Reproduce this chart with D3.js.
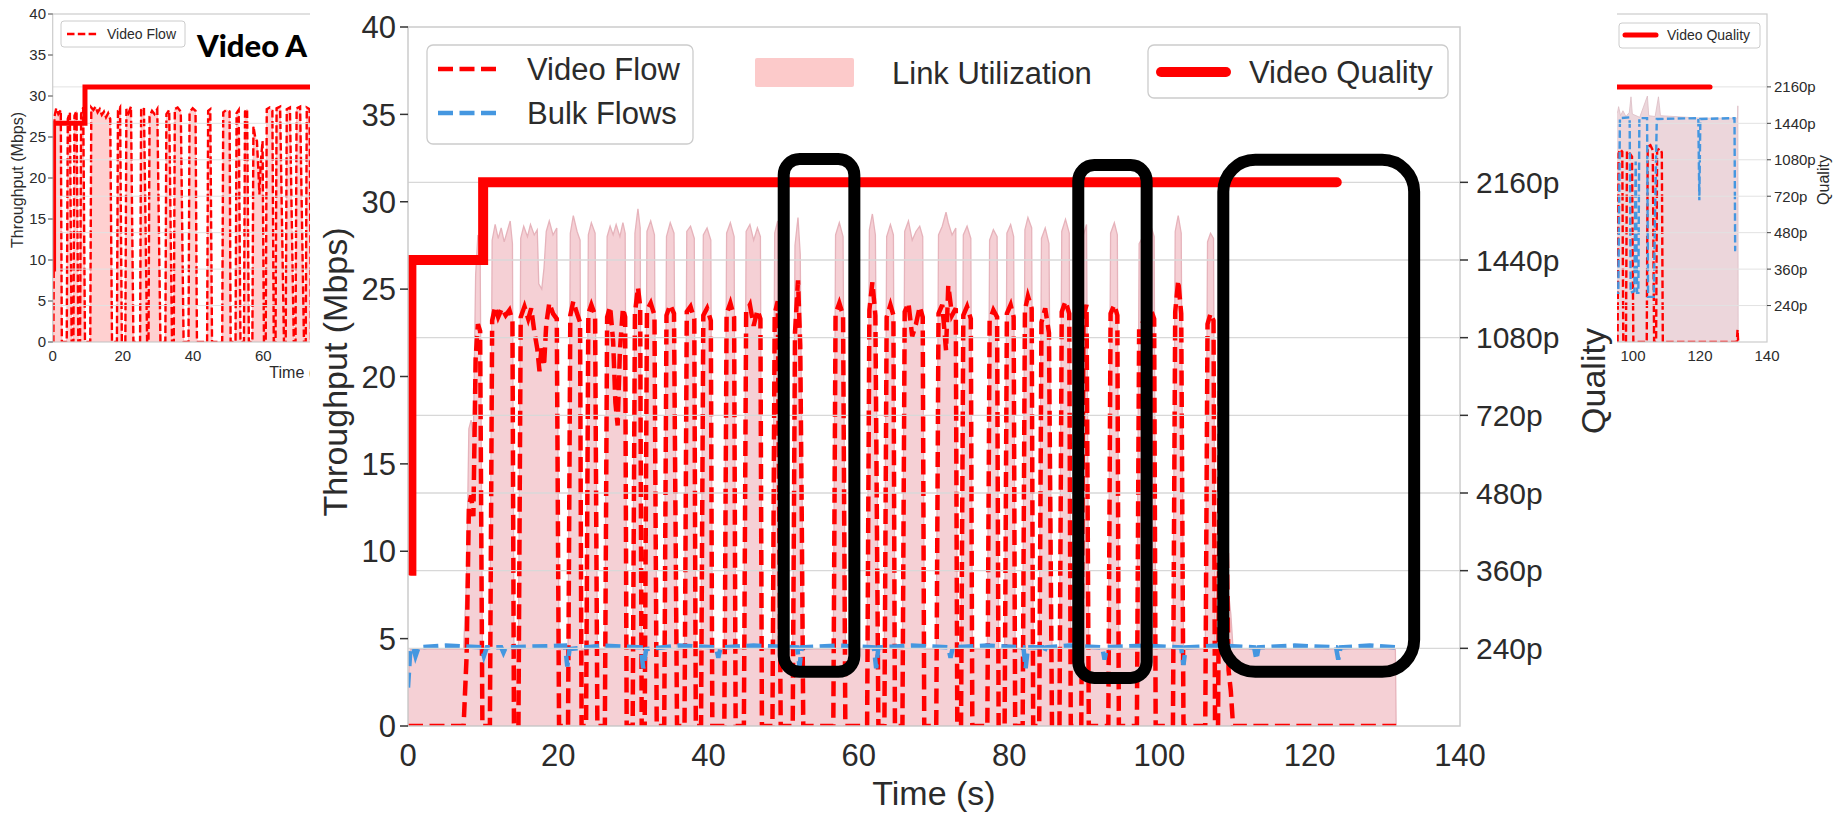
<!DOCTYPE html>
<html><head><meta charset="utf-8">
<script src="https://cdn.jsdelivr.net/npm/d3@7/dist/d3.min.js"></script>
<style>html,body{margin:0;padding:0;background:#fff;}svg{display:block;}</style>
</head><body>
<svg id="chart" width="1835" height="813"></svg>
<script>
// ================= DATA =================
const timeTicks = [0, 20, 40, 60, 80, 100, 120, 140];
const throughputTicks = [0, 5, 10, 15, 20, 25, 30, 35, 40];
const qualityLevels = ["240p", "360p", "480p", "720p", "1080p", "1440p", "2160p"]; // quality index 1..7
const mainLegendLines = ["Video Flow", "Bulk Flows"];
const utilLegend = "Link Utilization";
const qualityLegend = "Video Quality";
const sideTitle = "Video A";

// main chart: [time s, Mbps]
const mainVideoFlow = [
 [0,0],[7.4,0],[7.8,4],[8.1,12.5],[8.4,13.2],[8.7,12],[9.0,21],[9.3,23],[9.6,22.6],[9.9,0],
 [10.9,0],[11.2,23.2],[11.6,24.0],[12.0,23.4],[12.5,23.9],[13.0,23.5],[13.5,23.8],[13.9,23.2],[14.1,0],
 [14.7,0],[15.0,23.4],[15.5,24.0],[16.0,23.3],[16.4,23.9],[16.8,22.6],[17.2,21.6],[17.5,20.3],[17.8,21.8],[18.1,20.6],[18.4,23.0],[18.8,24.2],[19.3,23.6],[19.8,23.3],[20.1,0],
 [21.3,0],[21.6,23.5],[22.0,24.3],[22.5,23.6],[22.9,23.1],[23.1,0],
 [23.7,0],[24.0,23.6],[24.4,24.1],[24.9,23.5],[25.2,0],
 [26.2,0],[26.5,23.4],[26.9,24.0],[27.3,22.0],[27.6,18.5],[27.9,17.2],[28.2,21.5],[28.6,23.9],[28.9,23.4],[29.1,0],
 [29.9,0],[30.2,23.6],[30.6,25.1],[30.9,24.0],[31.1,0],[31.5,0],[31.8,23.8],[32.3,24.2],[32.8,23.5],[33.1,0],
 [34.1,0],[34.4,23.5],[34.9,24.1],[35.4,23.6],[35.8,0],
 [36.8,0],[37.1,23.7],[37.6,24.0],[38.1,23.3],[38.3,0],
 [39.0,0],[39.3,23.5],[39.8,23.9],[40.3,23.2],[40.5,0],
 [42.1,0],[42.4,23.6],[42.9,24.2],[43.4,23.4],[43.6,0],
 [44.7,0],[45.0,23.7],[45.5,24.1],[46.0,22.9],[46.5,23.8],[46.9,23.3],[47.1,0],
 [48.5,0],[48.8,23.6],[49.2,24.3],[49.6,0],
 [51.2,0],[51.5,22.5],[51.9,25.5],[52.2,21.8],[52.4,12.0],[52.6,0],
 [56.6,0],[56.9,23.6],[57.4,24.2],[57.9,23.5],[58.2,0],
 [61.1,0],[61.4,23.8],[61.8,25.4],[62.2,23.5],[62.6,0],
 [63.4,0],[63.7,23.4],[64.2,24.1],[64.6,23.5],[64.8,0],
 [65.8,0],[66.1,23.7],[66.6,24.2],[67.1,22.3],[67.6,23.0],[68.1,24.0],[68.5,23.4],[68.7,0],
 [70.3,0],[70.6,23.6],[71.1,24.1],[71.6,21.5],[71.9,25.2],[72.4,23.5],[72.9,23.9],[73.1,0],
 [73.6,0],[73.9,23.5],[74.4,24.0],[74.9,23.3],[75.1,0],
 [77.1,0],[77.4,23.2],[77.9,23.8],[78.4,23.4],[78.6,0],
 [79.4,0],[79.7,23.6],[80.2,24.1],[80.6,23.4],[80.8,0],
 [81.8,0],[82.1,23.8],[82.5,24.6],[83.0,23.9],[83.2,0],
 [84.0,0],[84.3,23.1],[84.8,23.9],[85.3,22.5],[85.7,0],
 [86.7,0],[87.0,23.7],[87.5,24.3],[88.0,23.6],[88.2,0],
 [89.6,0],[89.9,23.5],[90.3,24.1],[90.6,0],
 [93.2,0],[93.5,23.6],[94.0,24.1],[94.4,23.5],[94.6,0],
 [97.0,0],[97.3,22.8],[97.8,23.1],[98.3,23.6],[98.8,23.9],[99.3,23.3],[99.5,0],
 [101.8,0],[102.1,23.7],[102.5,25.5],[102.9,23.6],[103.2,0],
 [106.1,0],[106.4,23.0],[106.8,23.6],[107.2,23.2],[107.4,0],[107.8,0],[108.1,22.7],[108.5,22.4],[108.9,12.0],[109.2,3.2],[109.5,2.0],[109.8,0],
 [131.5,0]
];
const mainBulkFlows = [
 [0,2.2],[0.3,4.3],[0.7,4.5],[1.0,4.0],[1.4,4.5],[5,4.6],[9.8,4.5],[10.1,4.0],[10.5,4.5],[12.4,4.5],[12.7,4.2],[13.0,4.5],
 [20.9,4.6],[21.2,3.4],[21.5,4.4],[26,4.6],[31.0,4.5],[31.3,3.3],[31.7,4.4],[36,4.6],[41.0,4.5],[41.3,3.9],[41.6,4.5],
 [46,4.6],[51.8,4.5],[52.1,3.4],[52.4,4.5],[57,4.6],[62.0,4.5],[62.3,3.3],[62.6,4.5],[67,4.6],[71.9,4.5],[72.2,3.9],[72.5,4.5],
 [77,4.6],[81.9,4.5],[82.2,3.3],[82.5,4.5],[84.4,4.5],[84.6,4.2],[84.9,4.5],[88,4.6],[92.4,4.5],[92.7,3.8],[93.0,4.5],
 [98,4.6],[102.9,4.5],[103.2,3.5],[103.5,4.5],[108,4.6],[112.6,4.5],[112.9,3.8],[113.2,4.5],[118,4.6],
 [123.5,4.5],[123.8,3.8],[124.1,4.5],[128,4.6],[131.4,4.5]
];
const mainLinkUtil = [
 [0,2.2],[0.3,4.4],[7.4,4.4],[7.8,8.5],[8.1,17],[8.4,17.5],[8.7,16.5],[9.0,25.8],[9.3,28.1],[9.6,27.4],[9.9,4.4],
 [10.9,4.4],[11.2,27.8],[11.6,28.7],[12.0,27.9],[12.4,28.5],[12.8,27.7],[13.2,28.3],[13.6,28.9],[13.9,27.6],[14.1,4.4],
 [14.7,4.4],[15.0,27.9],[15.4,28.6],[15.9,28.0],[16.3,28.7],[16.8,28.1],[17.2,28.4],[17.4,25.3],[17.8,25.0],[18.1,26.2],[18.4,28.3],[18.8,28.9],[19.3,28.1],[19.8,28.5],[20.1,4.4],
 [21.3,4.4],[21.6,28.2],[22.0,29.2],[22.5,28.3],[22.9,27.8],[23.1,4.4],
 [23.7,4.4],[24.0,28.1],[24.4,28.8],[24.9,28.2],[25.2,4.4],
 [26.2,4.4],[26.5,28.0],[26.9,28.6],[27.3,28.1],[27.7,28.7],[28.2,28.0],[28.6,28.8],[28.9,28.2],[29.1,4.4],
 [29.9,4.4],[30.2,28.2],[30.6,29.6],[30.9,28.5],[31.1,4.4],[31.5,4.4],[31.8,28.3],[32.3,28.9],[32.8,28.1],[33.1,4.4],
 [34.1,4.4],[34.4,28.0],[34.9,28.8],[35.4,28.2],[35.8,4.4],
 [36.8,4.4],[37.1,28.3],[37.6,28.6],[38.1,27.9],[38.3,4.4],
 [39.0,4.4],[39.3,28.1],[39.8,28.5],[40.3,27.8],[40.5,4.4],
 [42.1,4.4],[42.4,28.2],[42.9,28.8],[43.4,28.0],[43.6,4.4],
 [44.7,4.4],[45.0,28.3],[45.5,28.7],[46.0,27.8],[46.5,28.5],[46.9,28.0],[47.1,4.4],
 [48.5,4.4],[48.8,28.2],[49.2,28.9],[49.6,4.4],
 [51.2,4.4],[51.5,27.5],[51.9,29.1],[52.2,27.0],[52.4,16.5],[52.6,4.4],
 [56.6,4.4],[56.9,28.1],[57.4,28.8],[57.9,28.0],[58.2,4.4],
 [61.1,4.4],[61.4,28.4],[61.8,29.3],[62.2,28.1],[62.6,4.4],
 [63.4,4.4],[63.7,28.0],[64.2,28.7],[64.6,28.1],[64.8,4.4],
 [65.8,4.4],[66.1,28.3],[66.6,28.9],[67.1,27.8],[67.6,28.3],[68.1,28.6],[68.5,28.0],[68.7,4.4],
 [70.3,4.4],[70.6,28.1],[71.1,28.6],[71.6,29.4],[71.9,28.8],[72.4,28.1],[72.9,28.5],[73.1,4.4],
 [73.6,4.4],[73.9,28.1],[74.4,28.6],[74.9,27.9],[75.1,4.4],
 [77.1,4.4],[77.4,27.8],[77.9,28.4],[78.4,28.0],[78.6,4.4],
 [79.4,4.4],[79.7,28.2],[80.2,28.7],[80.6,28.0],[80.8,4.4],
 [81.8,4.4],[82.1,28.4],[82.5,29.1],[83.0,28.5],[83.2,4.4],
 [84.0,4.4],[84.3,27.9],[84.8,28.5],[85.3,27.6],[85.7,4.4],
 [86.7,4.4],[87.0,28.3],[87.5,29.0],[88.0,28.2],[88.2,4.4],
 [89.6,4.4],[89.9,28.1],[90.3,28.7],[90.6,4.4],
 [93.2,4.4],[93.5,28.2],[94.0,28.8],[94.4,28.1],[94.6,4.4],
 [97.0,4.4],[97.3,27.6],[97.8,28.0],[98.3,28.4],[98.8,28.7],[99.3,28.0],[99.5,4.4],
 [101.8,4.4],[102.1,28.3],[102.5,29.2],[102.9,28.2],[103.2,4.4],
 [106.1,4.4],[106.4,27.7],[106.8,28.2],[107.2,27.9],[107.4,4.4],[107.8,4.4],[108.1,27.4],[108.5,27.1],[108.9,16.5],[109.2,7.6],[109.5,6.4],[109.8,4.4],
 [131.4,4.4],[131.5,0]
];
// quality: [time s, quality index] (1 = 240p ... 7 = 2160p)
const mainQuality = [[0.4,2],[0.45,6],[10.0,7],[123.6,7]];
// highlight boxes: [t start, t end, Mbps bottom, Mbps top]
const highlightBoxes = [[50.0,59.4,3.1,32.45],[89.2,98.3,2.75,32.1],[108.5,133.9,3.1,32.4]];

// left side chart ("Video A")
const sideAVideoFlow = [
 [0,0],[0.2,0],[0.5,27.5],[1.0,28.5],[1.6,27.8],[2.3,28.3],[2.6,0],
 [4.0,0],[4.3,27.2],[4.9,28.0],[5.4,0],
 [5.9,0],[6.2,27.6],[6.8,28.2],[7.3,0],
 [7.8,0],[8.1,27.8],[8.7,28.6],[9.2,0],
 [10.7,0],[11.0,28.6],[11.6,28.3],[12.2,28.7],[12.8,28.0],[13.4,28.4],[14.0,27.7],[14.6,28.1],[15.2,27.4],[15.8,27.9],[16.4,27.2],[16.9,0],
 [18.3,0],[18.6,28.2],[19.2,28.6],[19.7,0],
 [20.7,0],[21.0,28.4],[21.6,27.9],[22.3,28.7],[23.0,0],
 [24.9,0],[25.2,28.3],[26.0,28.6],[26.9,0],
 [27.3,0],[27.6,27.5],[28.3,28.2],[29.0,27.8],[29.8,28.4],[30.7,0],
 [32.1,0],[32.4,27.8],[33.2,28.3],[34.0,0],
 [34.5,0],[34.8,28.4],[35.6,28.6],[36.5,28.1],[37.3,0],
 [38.7,0],[39.0,28.0],[39.9,28.5],[40.7,28.2],[41.1,0],
 [44.0,0],[44.3,28.2],[44.9,28.4],[45.4,0],
 [48.3,0],[48.6,28.0],[49.5,28.3],[50.4,28.1],[50.7,0],
 [52.1,0],[52.4,27.9],[53.0,28.3],[53.5,0],
 [54.5,0],[54.8,28.1],[55.4,28.4],[55.9,0],
 [56.9,0],[57.2,26.3],[57.7,25.0],[58.2,24.5],[58.6,21.0],[58.9,18.0],[59.3,22.0],[59.8,24.5],[60.2,0],
 [60.7,0],[61.0,28.4],[61.8,28.6],[62.6,28.2],[63.0,0],
 [63.5,0],[63.8,28.5],[64.8,28.7],[65.9,0],
 [66.4,0],[66.7,28.4],[67.6,28.6],[68.7,0],
 [69.2,0],[69.5,28.5],[70.5,28.7],[71.6,0],
 [72.1,0],[72.4,28.6],[73.2,28.4],[73.6,0],[80,0]
];
const sideAQuality = [[0.17,2],[0.25,6],[9.2,7],[123.0,7]];

// right side chart
const sideBVideoFlow = [
 [0,0],[93.0,0],[93.3,23.2],[94.5,23.6],[94.9,0],
 [95.4,0],[95.7,23.0],[96.2,23.5],[96.8,23.2],[97.1,0],
 [97.9,0],[98.2,23.3],[99.0,23.0],[99.7,22.6],[100.1,0],
 [104.1,0],[104.4,23.8],[105.2,24.0],[105.9,23.4],[106.3,0],
 [106.9,0],[107.2,23.4],[108.0,23.6],[108.6,23.1],[108.9,0],
 [131.0,0],[131.2,1.5],[131.4,0]
];
const sideBBulkFlows = [
 [0,6],[95.6,6.0],[96.1,27.3],[99.0,27.4],[99.3,6.0],[100.4,6.2],[100.8,22.0],[101.2,6.0],[101.6,6.0],[101.9,27.3],
 [104.2,27.3],[104.5,5.5],[106.2,5.5],[106.6,16.0],[107.1,27.2],[119.5,27.3],[119.8,17.3],[120.1,27.2],[130.3,27.3],[130.5,11.2],[130.8,11.2]
];
const sideBLinkUtil = [
 [0,28],[95.4,28.0],[95.7,28.7],[96.3,27.6],[97.0,28.2],[97.9,27.5],[98.9,28.0],[99.4,29.9],[99.8,27.8],[102.0,27.4],
 [104.3,30.0],[104.7,27.6],[106.6,27.5],[107.6,29.9],[108.2,27.6],[120.0,27.3],[131.2,27.3],[131.3,28.8],[131.4,0]
];
const sideBQuality = [[0.2,2],[0.3,6],[10.0,7],[123.0,7]];

// ================= DRAWING =================
const svg = d3.select("#chart");
const FONT = "'Liberation Sans', Arial, Helvetica, sans-serif";
const INK = "#2b2b2b";
const RED = "#ff0000", BLUE = "#4597e0", SPINE = "#cccccc", GRID = "#d8d8d8";
const qIdx = qualityLevels.map((d, i) => i + 1);
const MAIN_LEFT = 310, MAIN_RIGHT = 1617; // extent of the main figure laid over the side figures

function mkLine(x, y, curve) {
  return d3.line().x(d => x(d[0])).y(d => y(d[1])).curve(curve || d3.curveLinear);
}
function mkArea(x, y) {
  return d3.area().x(d => x(d[0])).y0(y(0)).y1(d => y(d[1]));
}
const visible = px => px < MAIN_LEFT - 4 || px > MAIN_RIGHT + 4;

// ---------- side panel helper ----------
function sidePanel(cfg) {
  const g = svg.append("g");
  const x = d3.scaleLinear().domain([0, 140]).range(cfg.xr);
  const y = d3.scaleLinear().domain([0, 40]).range(cfg.yr);
  const q = d3.scaleLinear().domain([0, 9]).range(cfg.yr);
  g.append("clipPath").attr("id", cfg.id).append("rect")
    .attr("x", cfg.xr[0]).attr("y", cfg.yr[1])
    .attr("width", cfg.xr[1] - cfg.xr[0]).attr("height", cfg.yr[0] - cfg.yr[1]);
  const p = g.append("g").attr("clip-path", `url(#${cfg.id})`);
  p.append("path").datum(cfg.util).attr("d", mkArea(x, y))
    .attr("fill", cfg.utilFill).attr("stroke", cfg.utilEdge).attr("stroke-width", 0.8);
  p.append("path").datum(cfg.video).attr("d", mkLine(x, y)).attr("fill", "none")
    .attr("stroke", RED).attr("stroke-width", 2.4).attr("stroke-dasharray", "7.5,3.3");
  if (cfg.bulk) p.append("path").datum(cfg.bulk).attr("d", mkLine(x, y)).attr("fill", "none")
    .attr("stroke", BLUE).attr("stroke-width", 2.4).attr("stroke-dasharray", "7.5,3.3");
  p.selectAll("line.grid").data(qIdx).enter().append("line").attr("class", "grid")
    .attr("x1", cfg.xr[0]).attr("x2", cfg.xr[1]).attr("y1", d => q(d)).attr("y2", d => q(d))
    .attr("stroke", "#e2e2e2").attr("stroke-width", 1);
  p.append("path").datum(cfg.quality).attr("d", mkLine(x, q, d3.curveStepAfter)).attr("fill", "none")
    .attr("stroke", RED).attr("stroke-width", 5).attr("stroke-linecap", "round");
  g.append("rect").attr("x", cfg.xr[0]).attr("y", cfg.yr[1])
    .attr("width", cfg.xr[1] - cfg.xr[0]).attr("height", cfg.yr[0] - cfg.yr[1])
    .attr("fill", "none").attr("stroke", SPINE).attr("stroke-width", 1.2);
  g.selectAll("text.xt").data(timeTicks.filter(t => visible(x(t)))).enter().append("text")
    .attr("x", d => x(d)).attr("y", 361).attr("text-anchor", "middle")
    .attr("font-family", FONT).attr("font-size", 15).attr("fill", INK).text(d => d);
  if (cfg.showXLabel) g.append("text").attr("x", (cfg.xr[0] + cfg.xr[1]) / 2).attr("y", 378).attr("text-anchor", "middle")
    .attr("font-family", FONT).attr("font-size", 16).attr("fill", INK).text("Time (s)");
  return { g, x, y, q };
}

// ---------- left side chart ----------
const A = sidePanel({ id: "clipA", xr: [52.7, 544], yr: [342, 14], util: sideAVideoFlow, utilFill: "#ffd0d0", utilEdge: "#f6b9bd",
  video: sideAVideoFlow, quality: sideAQuality, showXLabel: true });
A.g.selectAll("line.yt").data(throughputTicks).enter().append("line")
  .attr("x1", 48).attr("x2", 52.7).attr("y1", d => A.y(d)).attr("y2", d => A.y(d)).attr("stroke", "#444").attr("stroke-width", 1);
A.g.selectAll("text.yt").data(throughputTicks).enter().append("text")
  .attr("x", 46).attr("y", d => A.y(d)).attr("dy", "0.36em").attr("text-anchor", "end")
  .attr("font-family", FONT).attr("font-size", 15).attr("fill", INK).text(d => d);
A.g.append("text").attr("transform", "translate(17,180) rotate(-90)").attr("dy", "0.35em").attr("text-anchor", "middle")
  .attr("font-family", FONT).attr("font-size", 16).attr("fill", INK).text("Throughput (Mbps)");
A.g.append("rect").attr("x", 61).attr("y", 21).attr("width", 124).attr("height", 26).attr("rx", 3)
  .attr("fill", "#fff").attr("fill-opacity", 0.85).attr("stroke", SPINE).attr("stroke-width", 1);
A.g.append("line").attr("x1", 67).attr("x2", 97).attr("y1", 34).attr("y2", 34)
  .attr("stroke", RED).attr("stroke-width", 2.4).attr("stroke-dasharray", "7.5,3.3");
A.g.append("text").attr("x", 107).attr("y", 34).attr("dy", "0.36em").attr("font-family", FONT)
  .attr("font-size", 14).attr("fill", INK).text(mainLegendLines[0]);
A.g.append("text").attr("x", 197).attr("y", 57).attr("font-family", "Lato, 'Open Sans', sans-serif")
  .attr("font-weight", 900).attr("font-size", 31).attr("fill", "#000").text(sideTitle);

// ---------- right side chart ----------
const B = sidePanel({ id: "clipB", xr: [1298, 1767], yr: [342, 14], util: sideBLinkUtil, utilFill: "#ecd6db", utilEdge: "#dcbcc4",
  video: sideBVideoFlow, bulk: sideBBulkFlows, quality: sideBQuality, showXLabel: false });
B.g.selectAll("line.qt").data(qIdx).enter().append("line")
  .attr("x1", 1767).attr("x2", 1771).attr("y1", d => B.q(d)).attr("y2", d => B.q(d)).attr("stroke", "#444").attr("stroke-width", 1);
B.g.selectAll("text.qt").data(qIdx).enter().append("text")
  .attr("x", 1774).attr("y", d => B.q(d)).attr("dy", "0.36em").attr("font-family", FONT)
  .attr("font-size", 15).attr("fill", INK).text(d => qualityLevels[d - 1]);
B.g.append("text").attr("transform", "translate(1823,180) rotate(-90)").attr("dy", "0.35em").attr("text-anchor", "middle")
  .attr("font-family", FONT).attr("font-size", 16).attr("fill", INK).text("Quality");
B.g.append("rect").attr("x", 1619).attr("y", 23).attr("width", 141).attr("height", 25).attr("rx", 3)
  .attr("fill", "#fff").attr("fill-opacity", 0.85).attr("stroke", SPINE).attr("stroke-width", 1);
B.g.append("line").attr("x1", 1625).attr("x2", 1656).attr("y1", 35).attr("y2", 35)
  .attr("stroke", RED).attr("stroke-width", 5).attr("stroke-linecap", "round");
B.g.append("text").attr("x", 1667).attr("y", 35).attr("dy", "0.36em").attr("font-family", FONT)
  .attr("font-size", 14).attr("fill", INK).text(qualityLegend);

// ---------- white backdrop of main chart ----------
svg.append("rect").attr("x", MAIN_LEFT).attr("y", 0).attr("width", MAIN_RIGHT - MAIN_LEFT).attr("height", 813).attr("fill", "#fff");

// ---------- main chart ----------
const M = { x0: 408, x1: 1460, y0: 726, y1: 27 };
const mx = d3.scaleLinear().domain([0, 140]).range([M.x0, M.x1]);
const my = d3.scaleLinear().domain([0, 40]).range([M.y0, M.y1]);
const mq = d3.scaleLinear().domain([0, 9]).range([M.y0, M.y1]);
const mg = svg.append("g");
mg.append("clipPath").attr("id", "clipM").append("rect")
  .attr("x", M.x0).attr("y", M.y1).attr("width", M.x1 - M.x0).attr("height", M.y0 - M.y1);
const mp = mg.append("g").attr("clip-path", "url(#clipM)");
mp.append("path").datum(mainLinkUtil).attr("d", mkArea(mx, my))
  .attr("fill", "#f5d0d5").attr("stroke", "#e6b3bb").attr("stroke-width", 1.3);
mp.append("path").datum(mainVideoFlow).attr("d", mkLine(mx, my)).attr("fill", "none")
  .attr("stroke", RED).attr("stroke-width", 4.5).attr("stroke-dasharray", "15,6.5");
mp.append("path").datum(mainBulkFlows).attr("d", mkLine(mx, my)).attr("fill", "none")
  .attr("stroke", BLUE).attr("stroke-width", 4.5).attr("stroke-dasharray", "15,6.5");
mp.selectAll("line.grid").data(qIdx).enter().append("line")
  .attr("x1", M.x0).attr("x2", M.x1).attr("y1", d => mq(d)).attr("y2", d => mq(d))
  .attr("stroke", GRID).attr("stroke-width", 1.4);
mp.append("path").datum(mainQuality).attr("d", mkLine(mx, mq, d3.curveStepAfter)).attr("fill", "none")
  .attr("stroke", RED).attr("stroke-width", 10).attr("stroke-linecap", "round");
mg.append("rect").attr("x", M.x0).attr("y", M.y1).attr("width", M.x1 - M.x0).attr("height", M.y0 - M.y1)
  .attr("fill", "none").attr("stroke", SPINE).attr("stroke-width", 1.5);

// left axis
mg.selectAll("line.yt").data(throughputTicks).enter().append("line")
  .attr("x1", 400).attr("x2", M.x0).attr("y1", d => my(d)).attr("y2", d => my(d)).attr("stroke", "#333").attr("stroke-width", 1.5);
mg.selectAll("text.yt").data(throughputTicks).enter().append("text")
  .attr("x", 396).attr("y", d => my(d)).attr("dy", "0.36em").attr("text-anchor", "end")
  .attr("font-family", FONT).attr("font-size", 31).attr("fill", INK).text(d => d);
mg.append("text").attr("transform", "translate(335,372) rotate(-90)").attr("dy", "0.36em").attr("text-anchor", "middle")
  .attr("font-family", FONT).attr("font-size", 34).attr("fill", INK).text("Throughput (Mbps)");
// right axis
mg.selectAll("line.qt").data(qIdx).enter().append("line")
  .attr("x1", M.x1).attr("x2", M.x1 + 8).attr("y1", d => mq(d)).attr("y2", d => mq(d)).attr("stroke", "#333").attr("stroke-width", 1.5);
mg.selectAll("text.qt").data(qIdx).enter().append("text")
  .attr("x", 1476).attr("y", d => mq(d)).attr("dy", "0.36em").attr("font-family", FONT)
  .attr("font-size", 30).attr("fill", INK).text(d => qualityLevels[d - 1]);
mg.append("text").attr("transform", "translate(1593,381) rotate(-90)").attr("dy", "0.36em").attr("text-anchor", "middle")
  .attr("font-family", FONT).attr("font-size", 34).attr("fill", INK).text("Quality");
// bottom axis
mg.selectAll("text.xt").data(timeTicks).enter().append("text")
  .attr("x", d => mx(d)).attr("y", 766).attr("text-anchor", "middle")
  .attr("font-family", FONT).attr("font-size", 31).attr("fill", INK).text(d => d);
mg.append("text").attr("x", (M.x0 + M.x1) / 2).attr("y", 805).attr("text-anchor", "middle")
  .attr("font-family", FONT).attr("font-size", 34).attr("fill", INK).text("Time (s)");

// legends
mg.append("rect").attr("x", 427).attr("y", 45).attr("width", 266).attr("height", 99).attr("rx", 6)
  .attr("fill", "#fff").attr("fill-opacity", 0.85).attr("stroke", SPINE).attr("stroke-width", 1.3);
const legColors = [RED, BLUE];
mainLegendLines.forEach((lab, i) => {
  const yy = 69 + i * 44;
  mg.append("line").attr("x1", 438).attr("x2", 501).attr("y1", yy).attr("y2", yy)
    .attr("stroke", legColors[i]).attr("stroke-width", 4.5).attr("stroke-dasharray", "15,6.5");
  mg.append("text").attr("x", 527).attr("y", yy).attr("dy", "0.36em").attr("font-family", FONT)
    .attr("font-size", 31).attr("fill", INK).text(lab);
});
mg.append("rect").attr("x", 755).attr("y", 58).attr("width", 99).attr("height", 29).attr("rx", 2).attr("fill", "#fccaca");
mg.append("text").attr("x", 892).attr("y", 73).attr("dy", "0.36em").attr("font-family", FONT)
  .attr("font-size", 31).attr("fill", INK).text(utilLegend);
mg.append("rect").attr("x", 1148).attr("y", 45).attr("width", 300).attr("height", 53).attr("rx", 6)
  .attr("fill", "#fff").attr("fill-opacity", 0.85).attr("stroke", SPINE).attr("stroke-width", 1.3);
mg.append("line").attr("x1", 1161).attr("x2", 1226).attr("y1", 72).attr("y2", 72)
  .attr("stroke", RED).attr("stroke-width", 10).attr("stroke-linecap", "round");
mg.append("text").attr("x", 1249).attr("y", 72).attr("dy", "0.36em").attr("font-family", FONT)
  .attr("font-size", 31).attr("fill", INK).text(qualityLegend);

// highlight boxes
const boxRadius = [16, 16, 32];
mg.selectAll("rect.hl").data(highlightBoxes).enter().append("rect").attr("class", "hl")
  .attr("x", d => mx(d[0])).attr("y", d => my(d[3]))
  .attr("width", d => mx(d[1]) - mx(d[0])).attr("height", d => my(d[2]) - my(d[3]))
  .attr("rx", (d, i) => boxRadius[i]).attr("ry", (d, i) => boxRadius[i])
  .attr("fill", "none").attr("stroke", "#000").attr("stroke-width", 12);
</script>
</body></html>
